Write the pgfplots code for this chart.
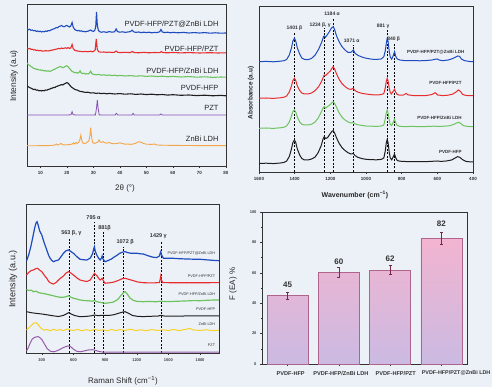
\documentclass[border=0pt]{standalone}
\usepackage{fontspec}
\setmainfont{Liberation Sans}
\usepackage{pgfplots}
\pgfplotsset{compat=1.18}
\definecolor{bg}{RGB}{236,241,248}
\definecolor{cblue}{RGB}{30,75,190}
\definecolor{cred}{RGB}{232,45,45}
\definecolor{cgreen}{RGB}{110,195,95}
\definecolor{cblack}{RGB}{30,30,30}
\definecolor{cpurple}{RGB}{135,80,180}
\definecolor{corange}{RGB}{245,165,70}
\definecolor{cyellow}{RGB}{248,210,40}
\definecolor{rpurple}{RGB}{150,90,170}
\definecolor{barTop}{RGB}{242,180,208}
\definecolor{barBot}{RGB}{203,186,226}
\definecolor{barEdge}{RGB}{175,100,140}
\definecolor{errC}{RGB}{120,40,70}
\pgfplotsset{
  panel/.style={scale only axis, axis background/.style={fill=none},
    axis line style={draw=black!80, line width=0.6pt},
    tick style={draw=black!80, line width=0.4pt},
    tick align=outside, major tick length=2pt, minor tick length=1.2pt,
    /pgf/number format/assume math mode=true,
    /pgf/number format/1000 sep={},
    tick label style={font=\fontsize{4.5}{5}\selectfont\bfseries, text=black!80},
    xtick pos=bottom, ytick pos=left, clip=true},
  dl/.style={black, line width=0.7pt, dash pattern=on 2pt off 1.5pt, forget plot},
}
\begin{document}
\begin{tikzpicture}
\fill[bg] (0pt,0pt) rectangle (492pt,387pt);
\useasboundingbox (0pt,0pt) rectangle (492pt,387pt);

% ---------------- XRD ----------------
\begin{axis}[panel, at={(27pt,221pt)}, anchor=south west, width=199pt, height=162pt,
  xmin=5, xmax=80, ymin=0, ymax=162, xtick={10,20,...,80}, minor x tick num=1, ytick=\empty]
\addplot[cblue, line width=1.1pt] coordinates {(5,137)(5.5,136.2)(6,136.8)(6.5,135.6)(7,136)(7.5,135.2)(8,135.5)(8.5,134.6)(9,135)(9.5,134.3)(10,134.8)(10.5,134)(11,134.5)(11.5,134.2)(12,135)(12.5,134.6)(13,135.4)(13.5,135.2)(14,136)(14.5,136.4)(15,137)(15.5,137.6)(16,138.4)(16.5,138.2)(17,139.4)(17.5,139.8)(18,140.5)(18.5,139.6)(19,139.2)(19.5,140)(20,140.6)(20.5,139.8)(21,139)(21.5,140)(22,143.5)(22.4,139)(23,136.4)(23.5,135.8)(24,135.2)(24.5,135.6)(25,134.8)(25.5,135.2)(26,134.4)(26.5,134.6)(27,134.2)(27.5,134.6)(28,134.8)(28.5,135.4)(29,136)(29.5,135)(30,134.6)(30.5,135.4)(30.9,139)(31.2,154)(31.5,141)(31.9,135.5)(32.5,134.2)(33,133.8)(34,134.2)(35,133.6)(36,134.4)(37,133.8)(38,134.2)(38.6,137)(39.1,134.4)(40,133.8)(41,134.2)(42,133.6)(43,134)(44,134.4)(44.6,135.8)(45.2,134.2)(46,133.6)(47,134)(48,133.4)(49,133.8)(50,133.4)(51,133.8)(52,133.2)(53,133.6)(54,133.4)(55,134.2)(55.5,136.5)(56,134)(57,133.4)(58,133.8)(59,133.2)(60,133.6)(62,133.2)(64,133.6)(66,133)(68,133.4)(70,133)(72,133.4)(74,132.8)(76,133.2)(78,132.8)(80,133)};
\addplot[cred, line width=1.1pt] coordinates {(5,118)(5.5,117.2)(6,117.6)(6.5,116.6)(7,116.8)(7.5,116)(8,116.3)(8.5,115.5)(9,115.8)(9.5,115.2)(10,115.5)(11,114.8)(12,115.3)(13,115)(14,115.6)(15,116.2)(16,116.8)(17,117.6)(17.5,117.2)(18,118)(18.5,117.4)(19,117.8)(19.5,118.2)(20,117.6)(20.5,118.4)(21,117.6)(21.5,118)(22,121.5)(22.4,117.5)(23,115.6)(24,115)(25,114.6)(26,114.3)(27,114.6)(28,114.2)(29,114.8)(29.5,114.2)(30,114.4)(30.7,116)(31.1,127)(31.5,116.5)(32,114.2)(33,113.8)(34,114)(35,113.6)(36,113.9)(37,113.5)(38,113.8)(38.6,115)(39.2,113.7)(40,113.4)(42,113.7)(44,113.4)(44.7,114.6)(45.3,113.5)(47,113.2)(49,113.6)(51,113.2)(53,113.5)(55,113.3)(55.6,114.4)(56.2,113.4)(58,113.2)(60,113.5)(63,113.1)(66,113.4)(70,113)(74,113.3)(77,113)(80,113.2)};
\addplot[cgreen, line width=1.1pt] coordinates {(5,103)(5.5,101.5)(6,100.6)(6.5,99.4)(7,98.8)(7.5,97.6)(8,97.4)(8.5,96.6)(9,96.8)(9.5,96)(10,96.2)(10.5,95.4)(11,95.8)(11.5,95)(12,95.4)(12.5,94.8)(13,95.2)(13.5,94.6)(14,95)(14.5,95.6)(15,96.4)(15.5,96.8)(16,97.6)(16.5,98.4)(17,98.8)(17.5,99.6)(18,99)(18.5,98.2)(19,98.8)(19.5,99.8)(20,100.2)(20.5,99.2)(21,97.6)(21.5,96)(22,94.6)(22.5,94)(23,93.2)(23.5,93.6)(24,92.8)(24.6,93.6)(25,95.2)(25.4,93)(26,92.4)(26.5,92.8)(27,92)(27.5,92.4)(28,92)(28.6,93.2)(29,94.8)(29.4,92.6)(30,91.6)(31,91.2)(32,91.6)(33,90.8)(34,91.2)(35,90.6)(36,91)(37,90.4)(38,90.8)(39,90.2)(40,90.6)(42,90)(44,90.4)(46,89.8)(48,90.2)(50,89.6)(52,90)(54,89.4)(56,89.8)(58,89.2)(60,89.6)(63,89)(66,89.4)(69,88.8)(72,89.2)(75,88.6)(78,89)(80,88.8)};
\addplot[cblack, line width=1.1pt] coordinates {(5,80)(5.5,79.2)(6,78.4)(6.5,77.8)(7,77.2)(7.5,76.4)(8,76.8)(8.5,75.8)(9,76)(9.5,75.2)(10,75.6)(10.5,75)(11,75.6)(11.5,75.2)(12,76)(12.5,75.8)(13,76.6)(13.5,76.8)(14,77.6)(14.5,77.8)(15,78.6)(15.5,78.4)(16,79.4)(16.5,79.8)(17,80.4)(17.5,80.8)(18,81.4)(18.5,81)(19,82)(19.5,82.6)(20,83.4)(20.5,82.8)(21,81.2)(21.5,79.6)(22,78.4)(22.5,77.6)(23,76.6)(24,75.8)(25,74.6)(26,74.2)(27,73.6)(28,73.8)(29,73)(30,73.2)(31,72.6)(32,72.9)(33,72.4)(34,72.7)(35,72.2)(36,72.6)(38,72)(40,72.4)(42,71.8)(44,72.2)(46,71.6)(48,72)(50,71.4)(52,71.8)(54,71.2)(56,71.5)(58,70.9)(60,71.3)(63,70.7)(66,71)(69,70.4)(72,70.8)(75,70.2)(78,70.6)(80,70.2)};
\addplot[cpurple, line width=0.8pt] coordinates {(5,51)(20,51)(21.6,51.2)(22,54.3)(22.4,51.2)(24,51)(30.8,51.1)(31.2,58)(31.5,66)(31.8,58)(32.2,51.1)(38.2,51)(38.7,52.7)(39.2,51)(44.6,51)(45,52.6)(45.4,51)(55,51)(55.5,52)(56,51)(80,51)};
\addplot[corange, line width=0.9pt] coordinates {(5,20.3)(8,20.2)(10,20.4)(12,20.3)(14,20.5)(15.5,21)(16,22)(16.5,21)(17,21.2)(17.8,22.6)(18.4,21.4)(19,21)(20,21.2)(21,21.5)(22,21.8)(22.6,23.2)(23,22)(23.5,23.5)(24,22.6)(24.6,24)(25,27)(25.3,31)(25.6,26)(26,23)(26.6,22.6)(27.2,22.8)(27.8,24)(28.3,25)(28.7,30)(29,38.3)(29.3,30)(29.7,23.6)(30.3,22.6)(31,23)(31.6,23.8)(32.2,26)(32.6,24)(33,23.6)(33.6,24.4)(34.2,23.4)(35,22.8)(36,23.5)(36.8,22.6)(38,22.2)(39,22.6)(40,23.2)(41,22.4)(42,21.8)(43,22)(44,21.6)(45,22)(46,22.8)(47,24.2)(48,23.8)(48.8,22.6)(50,21.8)(52,21.6)(53,22)(54,21)(56,20.8)(60,20.6)(65,20.5)(70,20.4)(75,20.3)(80,20.3)};
\node[anchor=east, font=\fontsize{7.5}{8}\selectfont, text=black!85] at (axis cs:78.5,142) {PVDF-HFP/PZT@ZnBi LDH};
\node[anchor=east, font=\fontsize{7.5}{8}\selectfont, text=black!85] at (axis cs:78.5,117) {PVDF-HFP/PZT};
\node[anchor=east, font=\fontsize{7.5}{8}\selectfont, text=black!85] at (axis cs:78.5,95) {PVDF-HFP/ZnBi LDH};
\node[anchor=east, font=\fontsize{7.5}{8}\selectfont, text=black!85] at (axis cs:78.5,78) {PVDF-HFP};
\node[anchor=east, font=\fontsize{7.5}{8}\selectfont, text=black!85] at (axis cs:78.5,58) {PZT};
\node[anchor=east, font=\fontsize{7.5}{8}\selectfont, text=black!85] at (axis cs:78.5,27) {ZnBi LDH};
\end{axis}

% ---------------- FTIR ----------------
\begin{axis}[panel, at={(259pt,215pt)}, anchor=south west, width=214pt, height=166pt,
  x dir=reverse, xmin=400, xmax=1600, ymin=-6, ymax=160, xtick={400,600,...,1600}, minor x tick num=1, ytick=\empty]
\addplot[dl] coordinates {(1401,-6)(1401,134)};
\addplot[dl] coordinates {(1234,-6)(1234,137.7)};
\addplot[dl] coordinates {(1184,-6)(1184,147.7)};
\addplot[dl] coordinates {(1071,-6)(1071,121)};
\addplot[dl] coordinates {(881,-6)(881,136)};
\addplot[dl] coordinates {(840,-6)(840,123.3)};
\addplot[cblue, line width=1pt] coordinates {(1600,104.3)(1560,104.6)(1520,104.2)(1480,104.8)(1460,105.3)(1445,106.5)(1430,111)(1418,118)(1410,125)(1401,127.7)(1394,125)(1385,118)(1372,112)(1360,108)(1345,106.6)(1325,106.3)(1305,107.6)(1285,111)(1265,117)(1248,124)(1238,129.5)(1234,130)(1228,128.6)(1218,131)(1205,134.5)(1195,137.7)(1184,139.3)(1176,136.5)(1165,130)(1150,124)(1135,119.5)(1118,116)(1100,113.5)(1085,113.6)(1071,116)(1062,112.8)(1045,110.6)(1020,108.8)(1000,107.8)(970,106.8)(940,106.6)(915,107)(900,109.3)(892,115)(886,123)(881,127.7)(876,124.5)(870,115)(864,109)(856,106.8)(848,110)(840,114.3)(834,110)(825,107)(810,106)(780,105.3)(740,105.5)(700,105.2)(660,105.5)(630,106)(610,106.8)(600,107)(590,106)(570,105.3)(540,106)(520,107)(500,108.7)(485,110)(475,109.6)(465,107)(450,105.5)(430,104.8)(415,104.4)(400,104.3)};
\addplot[cred, line width=1pt] coordinates {(1600,67.7)(1560,68)(1520,67.6)(1480,68.2)(1460,68.8)(1445,70)(1430,74)(1418,80)(1410,85.5)(1401,87.7)(1394,85.5)(1385,80)(1372,75.5)(1360,73)(1345,72)(1325,72)(1305,73)(1285,75.5)(1265,79.5)(1248,85)(1238,89.5)(1234,91)(1226,90.5)(1215,92.5)(1200,95)(1190,98)(1184,99.3)(1176,97)(1165,92)(1150,86.5)(1135,82.5)(1118,79.5)(1100,77.2)(1085,76.6)(1071,77.7)(1062,75.5)(1045,73.8)(1020,72.5)(1000,72)(970,71.3)(940,71)(915,71.4)(900,72.5)(892,78)(886,85)(881,87.7)(876,85)(870,78)(864,73.5)(858,72)(848,74.5)(840,76.7)(834,74)(825,71.5)(810,70.8)(790,71)(775,72.5)(765,71.2)(740,70.5)(700,70.4)(660,70.5)(630,71.5)(612,73.3)(598,71)(570,70.4)(540,70.8)(515,71.8)(495,74)(482,76)(470,74.5)(458,71.5)(440,70.6)(420,70.3)(400,70.3)};
\addplot[cgreen, line width=1pt] coordinates {(1600,37.7)(1560,38)(1520,37.6)(1480,38.2)(1460,38.8)(1445,40)(1430,44)(1418,50)(1410,54.5)(1401,56)(1394,54)(1385,49)(1372,44)(1360,41.8)(1345,41)(1325,41)(1305,41.8)(1285,44)(1268,48)(1252,53.5)(1240,58.3)(1234,59.3)(1226,58)(1215,59.5)(1200,61.5)(1190,63.5)(1184,64.3)(1176,62.5)(1165,58.5)(1150,53)(1135,49)(1118,46)(1100,44)(1085,43)(1071,43.6)(1062,42.2)(1045,41.2)(1020,40.5)(1000,40)(970,39.8)(940,39.6)(915,40)(900,41)(892,47)(886,53.5)(881,56)(876,53)(870,46)(864,41.5)(856,40.5)(848,43.5)(840,46.7)(834,43.5)(825,40.5)(810,39.6)(780,39.4)(740,39.6)(700,39.3)(660,39.5)(620,39.8)(590,39.6)(560,39.8)(530,40.3)(510,41.5)(492,43)(480,43.7)(468,42.5)(455,40.5)(440,39.8)(420,39.4)(400,39.3)};
\addplot[cblack, line width=1pt] coordinates {(1600,2.5)(1560,2.8)(1520,2.4)(1480,3)(1460,3.6)(1445,5)(1430,9.5)(1418,17)(1410,23.5)(1401,26)(1394,23.5)(1385,17)(1372,11)(1360,7.5)(1345,6)(1325,6)(1305,7)(1285,9)(1268,13.5)(1252,20)(1240,27.5)(1234,29.3)(1226,27.5)(1215,28.5)(1200,32.5)(1190,34.8)(1184,35.3)(1176,33)(1165,28)(1150,22.5)(1135,18.5)(1118,15.5)(1100,13.2)(1085,12)(1071,12.5)(1062,10.5)(1045,8.6)(1020,7.3)(1000,6.7)(970,6.3)(940,6.2)(915,6.6)(900,8)(892,15)(886,23.5)(881,26.7)(876,23)(870,14)(864,8)(856,6.2)(848,9)(840,12)(834,8.5)(825,5.5)(810,4.8)(780,4.5)(740,4.4)(700,4.3)(660,4.4)(620,4.8)(600,5)(580,4.6)(550,5)(520,6)(500,8)(488,9.3)(475,8.8)(460,6.5)(440,4.6)(420,4.2)(400,4)};
\node[font=\fontsize{5}{5.5}\selectfont\bfseries, text=black!80, inner sep=0.5pt] at (axis cs:1401,138) {1401 β};
\node[font=\fontsize{5}{5.5}\selectfont\bfseries, text=black!80, inner sep=0.5pt] at (axis cs:1257,141) {1234 β, γ};
\node[font=\fontsize{5}{5.5}\selectfont\bfseries, text=black!80, inner sep=0.5pt] at (axis cs:1190,152) {1184 α};
\node[font=\fontsize{5}{5.5}\selectfont\bfseries, text=black!80, inner sep=0.5pt] at (axis cs:1080,125) {1071 α};
\node[font=\fontsize{5}{5.5}\selectfont\bfseries, text=black!80, inner sep=0.5pt] at (axis cs:904,140) {881 γ};
\node[font=\fontsize{5}{5.5}\selectfont\bfseries, text=black!80, inner sep=0.5pt] at (axis cs:845,127) {840 β};
\node[anchor=east, font=\fontsize{4.5}{5}\selectfont\bfseries, text=black!80, inner sep=0.5pt] at (axis cs:445,114) {PVDF-HFP/PZT@ZnBi LDH};
\node[anchor=east, font=\fontsize{4.5}{5}\selectfont\bfseries, text=black!80, inner sep=0.5pt] at (axis cs:460,83) {PVDF-HFP/PZT};
\node[anchor=east, font=\fontsize{4.5}{5}\selectfont\bfseries, text=black!80, inner sep=0.5pt] at (axis cs:460,48) {PVDF-HFP/ZnBi LDH};
\node[anchor=east, font=\fontsize{4.5}{5}\selectfont\bfseries, text=black!80, inner sep=0.5pt] at (axis cs:460,14) {PVDF-HFP};
\end{axis}

% ---------------- Raman ----------------
\begin{axis}[panel, at={(26pt,34pt)}, anchor=south west, width=193pt, height=149pt,
  xmin=150, xmax=1980, ymin=0, ymax=149, xtick={300,600,...,1800}, minor x tick num=1, ytick=\empty,
  tick label style={font=\fontsize{4}{4.5}\selectfont\bfseries, text=black!75}]
\addplot[dl] coordinates {(563,0)(563,115)};
\addplot[dl] coordinates {(795,0)(795,131)};
\addplot[dl] coordinates {(881,0)(881,121)};
\addplot[dl] coordinates {(1072,0)(1072,106)};
\addplot[dl] coordinates {(1429,0)(1429,112)};
\addplot[cblue, line width=1.2pt] coordinates {(155,92)(175,98)(195,106)(215,116)(232,125)(245,130)(255,131.3)(265,128)(280,122)(300,118)(320,111)(347,103)(365,97.5)(379,94.7)(395,92.5)(411,91.3)(430,92.2)(458,93)(480,96)(505,99.7)(530,102.3)(553,103)(575,101.5)(600,99.7)(630,96.5)(663,93.7)(700,93.2)(727,93)(760,95)(780,99)(792,104)(799,106.3)(806,102)(821,98)(840,94.5)(853,93)(866,95)(872,97)(880,94)(900,91.3)(930,92.5)(960,94)(979,95.5)(1010,97.5)(1040,99.8)(1070,101)(1090,101.3)(1110,100.5)(1140,99.8)(1169,99.7)(1200,99.8)(1230,99.2)(1263,99)(1300,97.5)(1330,96.5)(1358,95.7)(1390,95.5)(1415,97)(1423,100)(1428,101.3)(1435,98)(1453,94.7)(1500,94.8)(1548,94.7)(1600,94.3)(1674,94)(1740,93.8)(1801,93.7)(1880,93)(1950,92.5)(1980,92.3)};
\addplot[cred, line width=1.1pt] coordinates {(155,78)(175,80.5)(200,82.5)(221,83)(240,84.2)(259,84.7)(278,83)(300,81.3)(325,77.5)(347,74.7)(365,71.5)(379,70.3)(395,69.5)(411,69)(435,70.5)(458,73)(480,75)(505,77)(530,80)(553,81.3)(575,80)(600,78)(630,75.3)(663,73)(700,72)(727,71.5)(760,73)(780,76.5)(799,79.7)(810,78.5)(821,77.5)(840,74.5)(853,73)(866,74)(872,74.7)(885,72)(900,69.7)(940,70.2)(979,70.8)(1020,72.3)(1060,74.2)(1090,74.7)(1120,73.8)(1169,72.3)(1210,71)(1263,70.3)(1320,70.1)(1380,70.2)(1415,70.5)(1423,74)(1428,77)(1433,73.5)(1445,70.4)(1500,70.3)(1600,70.2)(1700,70.3)(1800,70.2)(1900,70.3)(1980,70.3)};
\addplot[cgreen, line width=1.2pt] coordinates {(155,63.7)(175,62.5)(200,62.8)(221,61.3)(245,61.8)(270,60.4)(300,59.7)(330,59.2)(360,58.4)(379,58)(410,57.2)(440,56.4)(470,55.8)(505,55.7)(530,56.3)(553,57.3)(575,55.8)(600,54.7)(630,54)(663,53)(700,52.5)(740,52.2)(780,51.8)(799,52.5)(820,51.3)(860,50.5)(900,49.7)(940,50.2)(979,51)(1020,53.5)(1050,57.5)(1075,60.5)(1090,61.3)(1110,59)(1135,55)(1169,52.5)(1210,51.5)(1263,51.3)(1320,51.6)(1380,51.2)(1428,51.8)(1480,51.4)(1548,51.6)(1600,51.8)(1674,52.1)(1740,52.4)(1801,52.3)(1880,52.8)(1950,53)(1980,53)};
\addplot[cblack, line width=1pt] coordinates {(155,41.3)(200,40.3)(250,39.6)(300,39)(350,38.2)(400,37.3)(458,36.5)(505,37.6)(540,39.5)(553,40.3)(575,39.2)(610,37.5)(663,36.3)(720,36.6)(770,37.2)(799,38)(830,37.4)(872,37.6)(930,37.5)(980,38.2)(1030,39.8)(1070,41)(1090,41.3)(1120,39.8)(1160,37.5)(1210,36.6)(1263,36.4)(1330,36.7)(1400,36.9)(1428,37.6)(1460,37)(1548,36.9)(1650,37)(1750,37)(1850,37.1)(1980,37)};
\addplot[cyellow, line width=1pt] coordinates {(155,23)(180,25.5)(205,28)(225,30)(245,30.3)(265,28.5)(290,25)(320,22.8)(347,23.5)(379,22.2)(411,23.8)(440,22.6)(470,23.4)(505,22.4)(540,24)(570,23)(600,22.5)(640,23.6)(680,22.2)(720,23.4)(760,22.4)(800,23.6)(840,22.6)(880,23.2)(920,22.2)(960,23.6)(1000,22.4)(1040,23.4)(1090,22.6)(1140,23.8)(1190,22.4)(1240,23.2)(1290,22.2)(1340,23.4)(1400,22.6)(1450,23.2)(1500,22.4)(1548,23.6)(1600,22.4)(1650,23.4)(1700,24.5)(1740,23)(1800,22.6)(1860,23.2)(1920,22.4)(1980,22.6)};
\addplot[rpurple, line width=1pt] coordinates {(155,2)(170,5)(190,10)(210,14)(230,15.5)(250,16.2)(265,16.3)(280,15.5)(300,13.5)(325,9)(350,4.5)(380,1.8)(411,1.2)(440,2)(470,3.5)(505,5.5)(540,6.8)(555,7)(575,6.2)(600,3.8)(630,1.8)(663,1.2)(700,2)(740,3)(780,3.3)(810,2.6)(840,1.6)(872,1)(920,0.8)(1000,0.8)(1200,0.8)(1500,0.8)(1800,0.8)(1980,0.8)};
\node[font=\fontsize{5.5}{6}\selectfont\bfseries, text=black!80, inner sep=0.5pt] at (axis cs:580,119.7) {563 β, γ};
\node[font=\fontsize{5.5}{6}\selectfont\bfseries, text=black!80, inner sep=0.5pt] at (axis cs:790,135.7) {795 α};
\node[font=\fontsize{5.5}{6}\selectfont\bfseries, text=black!80, inner sep=0.5pt] at (axis cs:895,125.3) {881β};
\node[font=\fontsize{5.5}{6}\selectfont\bfseries, text=black!80, inner sep=0.5pt] at (axis cs:1090,110.7) {1072 β};
\node[font=\fontsize{5.5}{6}\selectfont\bfseries, text=black!80, inner sep=0.5pt] at (axis cs:1405,117) {1429 γ};
\node[anchor=east, font=\fontsize{3.8}{4}\selectfont, text=black!80, inner sep=0.5pt] at (axis cs:1950,99.7) {PVDF-HFP/PZT@ZnBi LDH};
\node[anchor=east, font=\fontsize{3.8}{4}\selectfont, text=black!80, inner sep=0.5pt] at (axis cs:1950,77) {PVDF-HFP/PZT};
\node[anchor=east, font=\fontsize{3.8}{4}\selectfont, text=black!80, inner sep=0.5pt] at (axis cs:1950,59) {PVDF-HFP/ZnBi LDH};
\node[anchor=east, font=\fontsize{3.8}{4}\selectfont, text=black!80, inner sep=0.5pt] at (axis cs:1950,44) {PVDF-HFP};
\node[anchor=east, font=\fontsize{3.8}{4}\selectfont, text=black!80, inner sep=0.5pt] at (axis cs:1950,28.7) {ZnBi LDH};
\node[anchor=east, font=\fontsize{3.8}{4}\selectfont, text=black!80, inner sep=0.5pt] at (axis cs:1950,8) {PZT};
\end{axis}

% ---------------- Bar ----------------
\begin{axis}[panel, at={(262pt,23pt)}, anchor=south west, width=205pt, height=152pt,
  xmin=-0.5, xmax=3.5, ymin=0, ymax=100, ytick={0,20,...,100}, minor y tick num=1,
  xtick={0,1,2,3}, xticklabels={,,,},
  yticklabel style={font=\fontsize{4}{4.5}\selectfont\bfseries, text=black!75}, clip=false]
\addplot[ybar, bar width=0.8, draw=barEdge, line width=0.6pt, top color=barTop, bottom color=barBot] coordinates {(0,45)(1,60.3)(2,61.8)(3,82.5)};
\addplot[draw=none, mark=none, forget plot, error bars/.cd, y dir=both, y explicit,
  error bar style={draw=errC, line width=0.6pt},
  error mark options={rotate=90, draw=errC, mark size=1.5pt, line width=0.6pt}]
  coordinates {(0,45) +- (0,2.2) (1,60.3) +- (0,3) (2,61.8) +- (0,3) (3,82.5) +- (0,4)};
\node[font=\fontsize{8}{9}\selectfont\bfseries, text=black!80] at (axis cs:0,52) {45};
\node[font=\fontsize{8}{9}\selectfont\bfseries, text=black!80] at (axis cs:1,67.3) {60};
\node[font=\fontsize{8}{9}\selectfont\bfseries, text=black!80] at (axis cs:2,69.5) {62};
\node[font=\fontsize{8}{9}\selectfont\bfseries, text=black!80] at (axis cs:3,92.5) {82};
\node[font=\fontsize{5.6}{6}\selectfont\bfseries, text=black!80, inner sep=0pt] at (axis cs:0.06,-6) {PVDF-HFP};
\node[font=\fontsize{5.6}{6}\selectfont\bfseries, text=black!80, inner sep=0pt] at (axis cs:1.04,-6) {PVDF-HFP/ZnBi LDH};
\node[font=\fontsize{5.6}{6}\selectfont\bfseries, text=black!80, inner sep=0pt] at (axis cs:2.11,-6) {PVDF-HFP/PZT};
\node[anchor=east, font=\fontsize{5.4}{6}\selectfont\bfseries, text=black!80, inner sep=0pt] at (axis cs:3.96,-6) {PVDF-HFP/PZT@ZnBi LDH};
\end{axis}

% ---------------- axis titles ----------------
\node[rotate=90, font=\fontsize{8.5}{9}\selectfont, text=black!85] at (14pt,311pt) {Intensity (a.u)};
\node[font=\fontsize{8}{9}\selectfont, text=black!85] at (125pt,199pt) {2θ (°)};
\node[rotate=90, font=\fontsize{6.5}{7}\selectfont\bfseries, text=black!85] at (251pt,294pt) {Absorbance (a.u)};
\node[font=\fontsize{7}{8}\selectfont\bfseries, text=black!85] at (355pt,192pt) {Wavenumber (cm\textsuperscript{−1})};
\node[font=\fontsize{8}{9}\selectfont, text=black!85] at (123pt,6pt) {Raman Shift (cm\textsuperscript{−1})};
\node[rotate=90, font=\fontsize{9}{10}\selectfont, text=black!85] at (13pt,108pt) {Intensity (a.u.)};
\node[rotate=90, font=\fontsize{8}{9}\selectfont, text=black!85] at (233pt,103pt) {F (EA) \%};
\end{tikzpicture}
\end{document}
